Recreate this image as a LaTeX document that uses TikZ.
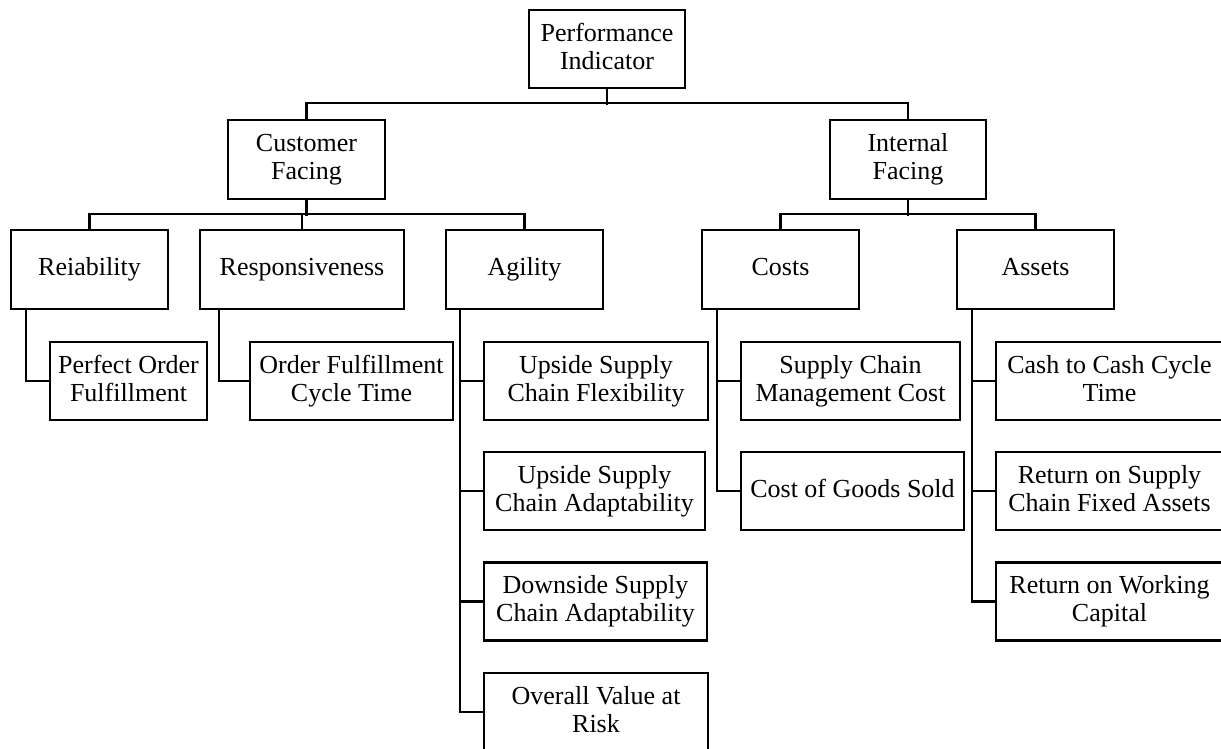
\documentclass[tikz,border=0pt]{standalone}
\usepackage{fontspec}
\setmainfont{Liberation Serif}
\newcommand\lnstrut{\rule[-6pt]{0pt}{22pt}}
\begin{document}
\begin{tikzpicture}[x=1pt,y=-1pt,
  box/.style={draw, line width=2.4pt, inner sep=0pt, align=center,
    font=\fontsize{26}{28}\selectfont, minimum height=78pt},
  link/.style={line width=2.4pt}]
\clip (0,0) rectangle (1221,749);
\fill[white] (0,0) rectangle (1221,749);
% level 0
\node[box, minimum width=156pt] (pi) at (607,49) {\lnstrut Performance\\\lnstrut Indicator};
% level 1
\node[box, minimum width=157pt, minimum height=79pt] (cf) at (306.5,159.5) {\lnstrut Customer\\\lnstrut Facing};
\node[box, minimum width=156pt, minimum height=79pt] (if) at (908,159.5) {\lnstrut Internal\\\lnstrut Facing};
% level 2
\node[box, minimum width=157pt, minimum height=79pt] (rel) at (89.5,269.5) {\lnstrut Reiability};
\node[box, minimum width=204pt, minimum height=79pt] (res) at (302,269.5) {\lnstrut Responsiveness};
\node[box, minimum width=157pt, minimum height=79pt] (agi) at (524.5,269.5) {\lnstrut Agility};
\node[box, minimum width=157pt, minimum height=79pt] (cos) at (780.5,269.5) {\lnstrut Costs};
\node[box, minimum width=157pt, minimum height=79pt] (ass) at (1035.5,269.5) {\lnstrut Assets};
% level 3
\node[box, minimum width=157pt] (po) at (128.5,381) {\lnstrut Perfect Order\\\lnstrut Fulfillment};
\node[box, minimum width=203pt] (ofct) at (351.5,381) {\lnstrut Order Fulfillment\\\lnstrut Cycle Time};
\node[box, minimum width=224pt] (a1) at (596,381) {\lnstrut Upside Supply\\\lnstrut Chain Flexibility};
\node[box, minimum width=221pt] (a2) at (594.5,491) {\lnstrut Upside Supply\\\lnstrut Chain Adaptability};
\node[box, minimum width=223pt] (a3) at (595.5,601.5) {\lnstrut Downside Supply\\\lnstrut Chain Adaptability};
\node[box, minimum width=224pt] (a4) at (596,712) {\lnstrut Overall Value at\\\lnstrut Risk};
\node[box, minimum width=219pt] (c1) at (850.5,381) {\lnstrut Supply Chain\\\lnstrut Management Cost};
\node[box, minimum width=223pt] (c2) at (852.5,491) {\lnstrut Cost of Goods Sold};
\node[box, minimum width=227pt] (s1) at (1109.5,381) {\lnstrut Cash to Cash Cycle\\\lnstrut Time};
\node[box, minimum width=227pt] (s2) at (1109.5,491) {\lnstrut Return on Supply\\\lnstrut Chain Fixed Assets};
\node[box, minimum width=227pt] (s3) at (1109.5,601.5) {\lnstrut Return on Working\\\lnstrut Capital};
% connectors level 0 -> 1
\draw[link] (pi.south) -- ++(0,16);
\draw[link] (cf.north) -- ++(0,-16) -| (if.north);
% level 1 -> 2
\draw[link] (cf.south) -- ++(0,16);
\draw[link] (rel.north) -- ++(0,-15) -| (agi.north);
\draw[link] (res.north) -- ++(0,-15);
\draw[link] (if.south) -- ++(0,16);
\draw[link] (cos.north) -- ++(0,-15) -| (ass.north);
% level 2 -> 3
\coordinate (relstem) at ([xshift=16pt]rel.south west);
\coordinate (resstem) at ([xshift=20pt]res.south west);
\coordinate (agistem) at ([xshift=15pt]agi.south west);
\coordinate (cosstem) at ([xshift=16pt]cos.south west);
\coordinate (assstem) at ([xshift=16pt]ass.south west);
\draw[link] (relstem) |- (po.west);
\draw[link] (resstem) |- (ofct.west);
\draw[link] (agistem) |- (a4.west);
\draw[link] (agistem |- a1.west) -- (a1.west);
\draw[link] (agistem |- a2.west) -- (a2.west);
\draw[link] (agistem |- a3.west) -- (a3.west);
\draw[link] (cosstem) |- (c2.west);
\draw[link] (cosstem |- c1.west) -- (c1.west);
\draw[link] (assstem) |- (s3.west);
\draw[link] (assstem |- s1.west) -- (s1.west);
\draw[link] (assstem |- s2.west) -- (s2.west);
\end{tikzpicture}
\end{document}
